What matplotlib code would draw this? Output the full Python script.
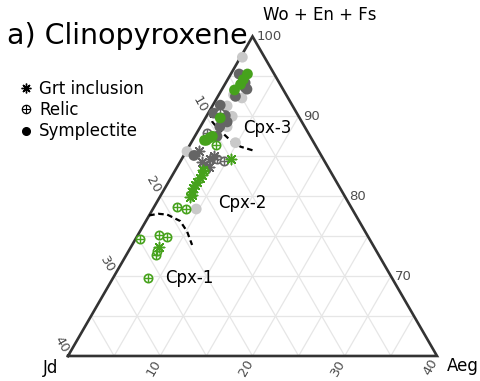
import numpy as np
import matplotlib
matplotlib.use("Agg")
import matplotlib.pyplot as plt
from matplotlib.lines import Line2D

# compositions in mol% (Jd, Aeg); Wo+En+Fs = 100 - Jd - Aeg
green_sym_jd = [2.9, 3.7, 4.3, 5.3, 8.6, 11.7, 11.0, 10.6, 11.5]
green_sym_aeg = [1.8, 1.7, 1.7, 1.4, 1.6, 1.3, 1.7, 1.9, 1.5]
green_relic_jd = [10.8, 13.7, 18.9, 18.0, 24.8, 22.6, 21.8, 24.1, 23.8, 26.4]
green_relic_aeg = [2.8, 3.2, 2.5, 3.6, 0.5, 2.3, 3.3, 3.2, 3.1, 3.8]
green_grt_jd = [10.0, 13.7, 14.1, 14.5, 15.1, 15.5, 15.9, 16.3, 16.5, 16.8, 23.3]
green_grt_aeg = [5.4, 3.0, 3.2, 3.2, 3.1, 3.1, 3.1, 3.2, 3.4, 3.3, 3.1]

dark_sym_jd = [3.8, 3.7, 3.9, 5.6, 4.0, 7.8, 9.0, 7.9, 8.1, 9.2, 10.1, 13.8]
dark_sym_aeg = [0.9, 2.1, 2.7, 1.9, 2.4, 0.8, 0.6, 2.0, 2.6, 2.1, 2.4, 1.1]
dark_relic_jd = [8.3, 11.0, 11.5, 10.9]
dark_relic_aeg = [1.3, 1.1, 3.8, 4.7]
dark_grt_jd = [13.0, 13.3, 12.3, 11.7, 12.9, 13.2]
dark_grt_aeg = [1.3, 2.4, 3.1, 3.3, 3.4, 3.2]

light_sym_jd = [2.4, 5.0, 5.7, 7.1, 7.2, 8.4, 8.5, 14.3, 16.9]
light_sym_aeg = [0.2, 2.7, 1.6, 1.6, 2.8, 2.9, 4.8, 0.1, 4.7]

# field boundaries
cpx3_jd = [9.4, 9.7, 9.5, 8.9, 8.2, 7.0]
cpx3_aeg = [0.1, 1.0, 2.1, 4.1, 5.6, 7.3]
cpx2_jd = [22.4, 21.3, 20.4, 19.4, 19.3, 19.6]
cpx2_aeg = [0.0, 0.9, 1.9, 3.7, 5.1, 6.5]

field_names = ["Cpx-3", "Cpx-2", "Cpx-1"]
field_jd = [6.7, 14.1, 24.6]
field_aeg = [4.7, 6.7, 5.7]

GREEN = "#46a21c"
DARK = "#656565"
LIGHT = "#c9c9c9"
SPAN = 40.0  # Jd and Aeg run 0-40, Wo+En+Fs 60-100
H = np.sqrt(3) / 2


def tern(jd, aeg):
    jd = np.asarray(jd, float)
    aeg = np.asarray(aeg, float)
    x = 0.5 + (aeg - jd) / (2 * SPAN)
    y = H * (1 - (jd + aeg) / SPAN)
    return x, y


fig = plt.figure(figsize=(4.8, 3.81), dpi=100)
ax = fig.add_axes([0, 0, 1, 1])
ax.set_xlim(-0.1843, 1.1165)
ax.set_ylim(-0.0678, 0.9648)
ax.axis("off")

# grid
for v in range(5, 40, 5):
    for p0, p1 in [((v, 0), (0, v)), ((v, 0), (v, SPAN - v)), ((0, v), (SPAN - v, v))]:
        x, y = tern([p0[0], p1[0]], [p0[1], p1[1]])
        ax.plot(x, y, color="#e6e6e6", lw=0.9, zorder=1)

# frame
fx, fy = tern([SPAN, 0, 0, SPAN], [0, SPAN, 0, 0])
ax.plot(fx, fy, color="#333333", lw=1.9, zorder=2, solid_joinstyle="miter")

# tick labels
tick_vals = [10, 20, 30, 40]
off = 0.036
for v in tick_vals:
    x, y = tern(v, 0)
    ax.text(x - 0.5 * off, y + H * off, str(v), rotation=-60, ha="center",
            va="center", fontsize=9.5, color="#4d4d4d")
    x, y = tern(SPAN - v, v)
    ax.text(x - 0.5 * off, y - H * off, str(v), rotation=60, ha="center",
            va="center", fontsize=9.5, color="#4d4d4d")
for w in [70, 80, 90, 100]:
    x, y = tern(0, 100 - w)
    ax.text(x + 0.012, y, str(w), ha="left", va="center", fontsize=9.5,
            color="#4d4d4d")

ax.text(0.667, 0.96, "Wo + En + Fs", ha="center", va="center", fontsize=12,
        transform=ax.transAxes)
ax.text(0.105, 0.035, "Jd", ha="center", va="center", fontsize=12,
        transform=ax.transAxes)
ax.text(0.965, 0.04, "Aeg", ha="center", va="center", fontsize=12,
        transform=ax.transAxes)
fig.text(0.015, 0.906, "a) Clinopyroxene", ha="left", va="center", fontsize=20.5)

# boundaries
for bj, ba in [(cpx3_jd, cpx3_aeg), (cpx2_jd, cpx2_aeg)]:
    x, y = tern(bj, ba)
    ax.plot(x, y, color="black", lw=1.6, ls=(0, (2.5, 1.6)), zorder=3)

for name, j, a in zip(field_names, field_jd, field_aeg):
    x, y = tern(j, a)
    ax.text(x, y, name, ha="left", va="center", fontsize=12, zorder=6)


def relic(jd, aeg, color, z):
    x, y = tern(jd, aeg)
    ax.scatter(x, y, s=36, marker="o", facecolors="white", edgecolors=color,
               linewidths=1.2, zorder=z)
    ax.scatter(x, y, s=30, marker="+", color=color, linewidths=1.0, zorder=z)


STAR = (8, 2, 0)
groups = [
    (LIGHT, light_sym_jd, light_sym_aeg, None, None, None, None),
    (DARK, dark_sym_jd, dark_sym_aeg, dark_relic_jd, dark_relic_aeg,
     dark_grt_jd, dark_grt_aeg),
    (GREEN, green_sym_jd, green_sym_aeg, green_relic_jd, green_relic_aeg,
     green_grt_jd, green_grt_aeg),
]
for i, (c, sj, sa, rj, ra, gj, ga) in enumerate(groups):
    z = 4 + i * 0.1
    x, y = tern(sj, sa)
    ax.scatter(x, y, s=60, color=c, edgecolors="none", zorder=z)
    if rj is not None:
        relic(rj, ra, c, z)
    if gj is not None:
        x, y = tern(gj, ga)
        ax.scatter(x, y, s=55, marker=STAR, color=c, linewidths=1.1, zorder=z)

handles = [
    Line2D([], [], ls="none", marker=STAR, color="black", ms=7, mew=1.0),
    (Line2D([], [], ls="none", marker="o", mfc="white", mec="black", ms=6, mew=0.9),
     Line2D([], [], ls="none", marker="+", color="black", ms=5.5, mew=0.8)),
    Line2D([], [], ls="none", marker="o", color="black", ms=5.5),
]
fig.legend(handles, ["Grt inclusion", "Relic", "Symplectite"], loc="upper left",
           bbox_to_anchor=(0.023, 0.808), frameon=False, fontsize=12,
           handlelength=1.0, handletextpad=0.3, labelspacing=0.2,
           borderaxespad=0)

fig.savefig("out.png", dpi=100)
